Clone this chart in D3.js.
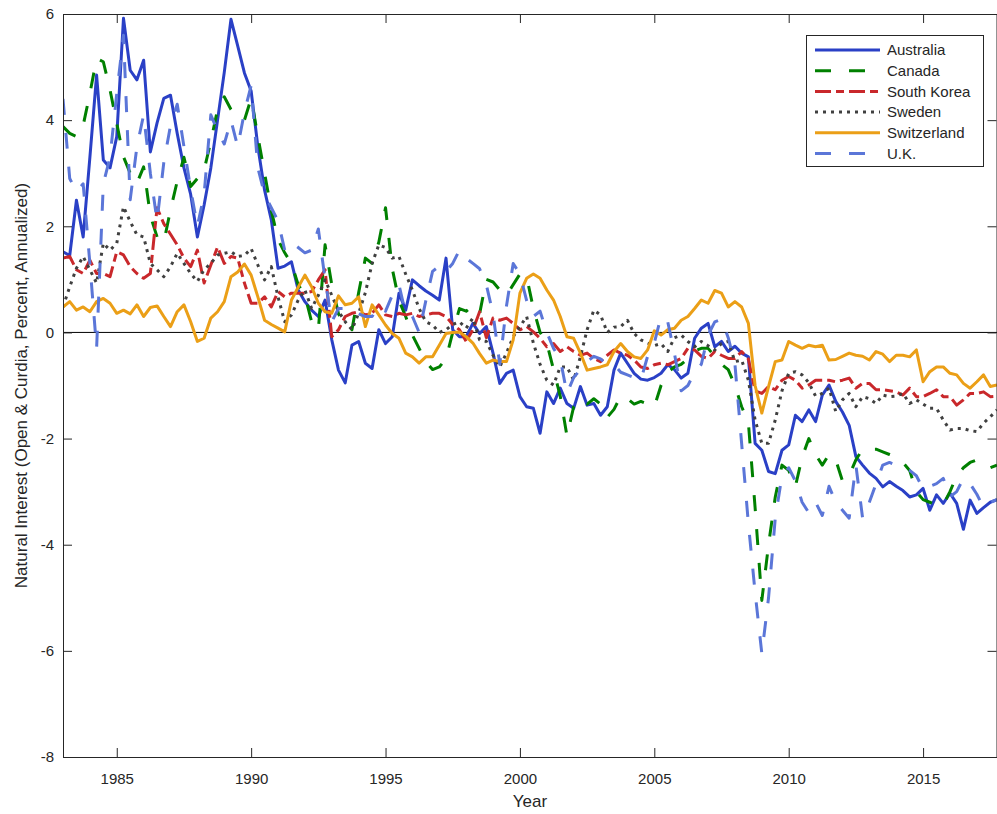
<!DOCTYPE html>
<html>
<head>
<meta charset="utf-8">
<script src="https://cdn.jsdelivr.net/npm/d3@7"></script>
<style>
  html, body { margin: 0; padding: 0; background: #fff; }
  svg { display: block; }
  text { font-family: "Liberation Sans", Arial, Helvetica, sans-serif; fill: #262626; }
</style>
</head>
<body>
<div id="chart"></div>
<script>
// ---------------- data (quarterly, 1983Q1 .. 2017Q4) ----------------
const startYear = 1983;
const seriesNames = ["Australia", "Canada", "South Korea", "Sweden", "Switzerland", "U.K."];

const australia = [
  1.52, 1.45, 2.49, 1.80,   3.30, 4.85, 3.25, 3.10,   3.69, 5.92, 4.94, 4.76,
  5.13, 3.40, 3.95, 4.41,   4.47, 3.75, 3.10, 2.60,   1.80, 2.40, 3.10, 4.00,
  4.90, 5.90, 5.40, 4.89,   4.55, 3.50, 2.68, 2.12,   1.21, 1.25, 1.33, 0.80,
  0.58, 0.42, 0.30, 0.61,  -0.14, -0.71, -0.95, -0.24, -0.17, -0.58, -0.68, 0.05,
  -0.21, -0.08, 0.74, 0.42,  0.99, 0.88, 0.78, 0.70,   0.61, 1.40, 0.05, -0.08,
  -0.08, 0.17, -0.02, 0.11, -0.39, -0.96, -0.77, -0.71, -1.21, -1.40, -1.43, -1.90,
  -1.12, -1.34, -1.05, -1.34, -1.43, -1.02, -1.37, -1.34, -1.56, -1.40, -0.71, -0.39,
  -0.58, -0.77, -0.88, -0.90, -0.85, -0.77, -0.61, -0.70, -0.86, -0.77, -0.11, 0.08,
  0.17, -0.27, -0.17, -0.36, -0.26, -0.39, -0.46, -2.09, -2.22, -2.62, -2.66, -2.22,
  -2.12, -1.56, -1.68, -1.46, -1.68, -1.18, -0.99, -1.30, -1.50, -1.75, -2.34, -2.50,
  -2.65, -2.75, -2.91, -2.81, -2.90, -2.98, -3.10, -3.06, -2.94, -3.35, -3.06, -3.22,
  -3.03, -3.22, -3.71, -3.16, -3.41, -3.30, -3.20, -3.15
];

const canada = [
  3.88, 3.75, 3.69, 3.90,   4.50, 5.16, 5.10, 4.57,   3.94, 3.31, 3.00, 2.81,
  3.12, 2.20, 1.80, 1.70,   2.31, 2.85, 3.30, 2.75,   2.90, 3.06, 3.60, 4.20,
  4.44, 4.20, 4.05, 4.00,   4.41, 3.69, 3.00, 2.30,   1.75, 1.50, 1.30, 0.90,
  0.70, 0.20, 0.05, 1.65,   0.90, 0.35, 0.15, 0.05,   0.75, 1.40, 1.30, 1.70,
  2.35, 1.20, 0.60, 0.30,  -0.05, -0.30, -0.55, -0.70, -0.65, -0.50, 0.00, 0.45,
  0.40, 0.50, 0.35, 1.00,   0.95, 0.80, 0.70, 0.90,   1.10, 1.05, 0.45, 0.00,
  -0.20, -0.70, -1.20, -1.95, -1.40, -1.25, -1.35, -1.25, -1.35, -1.60, -1.45, -1.20,
  -1.25, -1.35, -1.30, -1.35, -1.40, -1.00, -0.75, -0.65, -0.60, -0.50, -0.35, -0.30,
  -0.30, -0.45, -0.60, -0.70, -1.00, -1.40, -1.70, -3.30, -5.05, -4.00, -3.10, -2.50,
  -2.60, -2.90, -2.35, -2.00, -2.30, -2.50, -2.30, -2.40, -2.80, -2.70, -2.40, -2.20,
  -2.20, -2.20, -2.25, -2.30, -2.35, -2.45, -2.60, -3.00, -3.15, -3.20, -3.25, -3.25,
  -3.00, -2.70, -2.55, -2.45, -2.40, -2.45, -2.55, -2.50
];

const southKorea = [
  1.40, 1.43, 1.18, 1.11,   1.36, 1.11, 1.11, 1.05,   1.52, 1.46, 1.24, 1.11,
  1.02, 1.11, 2.35, 2.05,   1.85, 1.65, 1.40, 1.24,   1.55, 0.93, 1.27, 1.61,
  1.30, 1.43, 1.40, 0.93,   0.55, 0.55, 0.67, 0.48,   0.77, 0.67, 0.74, 0.74,
  0.74, 0.77, 0.99, 1.18,  -0.08, 0.05, 0.30, 0.36,   0.39, 0.33, 0.36, 0.52,
  0.33, 0.30, 0.36, 0.33,   0.36, 0.30, 0.33, 0.36,   0.36, 0.30, 0.15, 0.05,
  -0.17, 0.05, 0.39, -0.10,  0.27, 0.23, 0.27, 0.17,   0.05, 0.11, 0.01, -0.11,
  -0.27, -0.21, -0.36, -0.27, -0.36, -0.43, -0.39, -0.49, -0.55, -0.43, -0.33, -0.39,
  -0.43, -0.52, -0.65, -0.68, -0.61, -0.58, -0.61, -0.55, -0.49, -0.30, -0.33, -0.45,
  -0.49, -0.36, -0.43, -0.49, -0.49, -0.36, -0.50, -1.10, -1.15, -1.02, -1.08, -0.90,
  -0.83, -0.90, -1.05, -0.99, -0.90, -0.90, -0.90, -0.93, -0.90, -0.86, -1.05, -0.96,
  -0.96, -1.08, -1.08, -1.10, -1.12, -1.18, -1.05, -1.21, -1.21, -1.15, -1.08, -1.21,
  -1.21, -1.37, -1.27, -1.15, -1.15, -1.12, -1.21, -1.20
];

const sweden = [
  0.48, 0.86, 1.21, 1.43,   1.18, 0.93, 1.68, 1.55,   1.68, 2.37, 2.09, 1.84,
  1.80, 1.30, 1.18, 1.05,   1.24, 1.49, 1.30, 1.11,   0.96, 1.18, 1.30, 1.46,
  1.49, 1.52, 1.43, 1.45,   1.58, 1.27, 0.99, 1.24,   0.67, 0.20, 0.33, 0.61,
  0.80, 0.45, 0.70, 0.99,   0.70, 0.40, 0.20, 0.05,   0.36, 0.75, 1.30, 1.65,
  1.60, 1.40, 1.43, 1.10,   0.80, 0.45, 0.20, 0.14,   0.00, 0.05, 0.15, 0.20,
  0.08, 0.27, -0.14, -0.17, -0.43, -0.65, -0.39, -0.08,  0.11, 0.30, -0.20, -0.60,
  -0.90, -0.99, -0.65, -0.65, -0.90, -0.46, 0.05, 0.42,  0.33, 0.00, 0.10, 0.11,
  0.23, -0.02, -0.14, -0.20, -0.25, -0.21, -0.36, -0.10, -0.05, -0.17, -0.27, -0.17,
  -0.25, -0.33, -0.21, -0.17, -0.55, -0.52, -0.90, -1.65, -2.09, -2.09, -1.65, -1.10,
  -0.77, -0.74, -0.80, -0.95, -1.20, -1.15, -1.05, -1.49, -1.27, -1.15, -1.40, -1.21,
  -1.25, -1.34, -1.18, -1.21, -1.20, -1.15, -1.34, -1.27, -1.35, -1.43, -1.43, -1.65,
  -1.84, -1.81, -1.81, -1.85, -1.87, -1.71, -1.59, -1.46
];

const switzerland = [
  0.48, 0.58, 0.42, 0.48,   0.39, 0.58, 0.64, 0.55,   0.36, 0.42, 0.35, 0.52,
  0.30, 0.47, 0.50, 0.30,   0.11, 0.39, 0.52, 0.20,  -0.17, -0.11, 0.27, 0.39,
  0.58, 1.05, 1.14, 1.29,   1.08, 0.67, 0.23, 0.15,   0.08, 0.01, 0.61, 0.85,
  1.08, 0.86, 0.55, 0.39,   0.36, 0.69, 0.52, 0.55,   0.67, 0.11, 0.52, 0.33,
  0.14, -0.02, -0.11, -0.39, -0.46, -0.58, -0.46, -0.46, -0.24, -0.02, 0.00, 0.01,
  -0.08, -0.20, -0.40, -0.58, -0.52, -0.55, -0.55, -0.14,  0.74, 1.02, 1.10, 1.02,
  0.80, 0.61, 0.30, -0.08, -0.11, -0.39, -0.71, -0.68, -0.65, -0.61, -0.36, -0.21,
  -0.36, -0.46, -0.49, -0.33,  0.03, -0.05, 0.05, 0.08,   0.23, 0.30, 0.45, 0.61,
  0.55, 0.79, 0.74, 0.48,   0.58, 0.48, 0.17, -1.00, -1.52, -1.02, -0.55, -0.52,
  -0.17, -0.24, -0.30, -0.24, -0.27, -0.24, -0.52, -0.51, -0.45, -0.39, -0.43, -0.45,
  -0.52, -0.36, -0.41, -0.55, -0.43, -0.43, -0.46, -0.33, -0.93, -0.74, -0.65, -0.65,
  -0.77, -0.80, -0.96, -1.05, -0.93, -0.80, -1.02, -0.99
];

const uk = [
  4.40, 2.90, 2.65, 2.80,   1.30, -0.30, 2.80, 3.30,  4.50, 5.60, 2.50, 3.50,
  4.10, 3.00, 2.10, 3.20,   3.90, 4.30, 3.50, 2.70,   2.00, 2.60, 4.10, 3.80,
  3.55, 4.00, 3.50, 4.15,   4.65, 3.10, 2.60, 2.35,   2.10, 1.55, 1.70, 1.60,
  1.50, 1.55, 1.95, 1.00,   0.20, 0.45, 0.45, 0.45,   0.35, 0.30, 0.30, 0.50,
  0.40, 0.70, 0.90, 0.35,   0.30, 0.00, 0.60, 1.15,   1.25, 1.15, 1.30, 1.55,
  1.40, 1.30, 1.20, 0.90,   0.35, -0.60, 0.50, 1.30,  1.10, 0.60, 0.30, 0.40,
  0.00, -0.30, -0.50, -1.15, -0.85, -0.70, -0.55, -0.45, -0.50, -0.60, -0.60, -0.75,
  -0.80, -0.85, -0.90, -0.45, -0.20, 0.30, 0.20, -0.40, -1.10, -1.00, -0.75, -0.60,
  -0.05, 0.20, 0.25, -0.10, -0.60, -2.10, -3.60, -4.90, -6.05, -5.00, -3.50, -2.70,
  -2.55, -2.80, -3.20, -3.40, -3.20, -3.45, -2.90, -3.20, -3.35, -3.50, -2.50, -3.50,
  -3.20, -2.85, -2.50, -2.45, -2.50, -2.55, -2.60, -2.70, -2.95, -2.90, -2.85, -2.75,
  -3.10, -3.00, -2.75, -2.85, -3.05, -3.30, -3.20, -3.15
];

const xTicks = [1985, 1990, 1995, 2000, 2005, 2010, 2015];
const yTicks = [-8, -6, -4, -2, 0, 2, 4, 6];
const xLabel = "Year";
const yLabel = "Natural Interest (Open & Curdia, Percent, Annualized)";

// ---------------- styles ----------------
const styles = [
  { color: "#2a40c6", dash: null },
  { color: "#008000", dash: "16,18" },
  { color: "#c9282b", dash: "16,5,8,5" },
  { color: "#404040", dash: "3,5" },
  { color: "#eb9f17", dash: null },
  { color: "#5b76d8", dash: "16,18" }
];
const allSeries = [australia, canada, southKorea, sweden, switzerland, uk];

// ---------------- layout ----------------
const W = 997, H = 814;
const L = 63, T = 14, R = 997, B = 757;

const svg = d3.select("#chart").append("svg")
  .attr("width", W).attr("height", H);

const x = d3.scaleLinear().domain([1983, 2017.75]).range([L, R]);
const y = d3.scaleLinear().domain([-8, 6]).range([B, T]);

svg.append("defs").append("clipPath").attr("id", "clip")
  .append("rect").attr("x", L).attr("y", T).attr("width", R - L).attr("height", B - T);

// zero line
svg.append("line")
  .attr("x1", L).attr("x2", R).attr("y1", y(0)).attr("y2", y(0))
  .attr("stroke", "#000").attr("stroke-width", 1);

// series
const line = d3.line()
  .x((d, i) => x(startYear + i / 4))
  .y(d => y(d));

const g = svg.append("g").attr("clip-path", "url(#clip)");
allSeries.forEach((s, k) => {
  g.append("path")
    .datum(s)
    .attr("d", line)
    .attr("fill", "none")
    .attr("stroke", styles[k].color)
    .attr("stroke-width", 3)
    .attr("stroke-linejoin", "round")
    .attr("stroke-linecap", "butt")
    .attr("stroke-dasharray", styles[k].dash);
});

// axes
const fmt = d => String(d);
const axB = svg.append("g").attr("transform", `translate(0,${B})`)
  .call(d3.axisBottom(x).tickValues(xTicks).tickSizeInner(-9).tickSizeOuter(0).tickPadding(16).tickFormat(fmt));
const axT = svg.append("g").attr("transform", `translate(0,${T})`)
  .call(d3.axisTop(x).tickValues(xTicks).tickSizeInner(-9).tickSizeOuter(0).tickFormat(""));
const axL = svg.append("g").attr("transform", `translate(${L},0)`)
  .call(d3.axisLeft(y).tickValues(yTicks).tickSizeInner(-9).tickSizeOuter(0).tickPadding(9).tickFormat(fmt));
const axR = svg.append("g").attr("transform", `translate(${R - 0.5},0)`)
  .call(d3.axisRight(y).tickValues(yTicks).tickSizeInner(-9).tickSizeOuter(0).tickFormat(""));

[axB, axT, axL, axR].forEach(a => {
  a.selectAll("path.domain").attr("stroke", "#262626").attr("stroke-width", 1);
  a.selectAll(".tick line").attr("stroke", "#262626").attr("stroke-width", 1);
  a.selectAll(".tick text").attr("font-size", 15).attr("fill", "#262626")
    .style("font-family", '"Liberation Sans", Arial, sans-serif');
});

// axis labels
svg.append("text")
  .attr("x", (L + R) / 2).attr("y", 807)
  .attr("text-anchor", "middle").attr("font-size", 17)
  .text(xLabel);
svg.append("text")
  .attr("transform", `translate(21,${(T + B) / 2}) rotate(-90)`)
  .attr("text-anchor", "middle").attr("font-size", 17)
  .attr("dy", "0.35em")
  .text(yLabel);

// legend
const lg = svg.append("g");
lg.append("rect")
  .attr("x", 806.5).attr("y", 35.5).attr("width", 177).attr("height", 131)
  .attr("fill", "#fff").attr("stroke", "#262626").attr("stroke-width", 1);
seriesNames.forEach((name, k) => {
  const yy = 50 + k * 20.7;
  lg.append("line")
    .attr("x1", 815).attr("x2", 880).attr("y1", yy).attr("y2", yy)
    .attr("stroke", styles[k].color).attr("stroke-width", 3)
    .attr("stroke-dasharray", styles[k].dash);
  lg.append("text")
    .attr("x", 887).attr("y", yy).attr("dy", "0.35em")
    .attr("font-size", 15).text(name);
});
</script>
</body>
</html>
